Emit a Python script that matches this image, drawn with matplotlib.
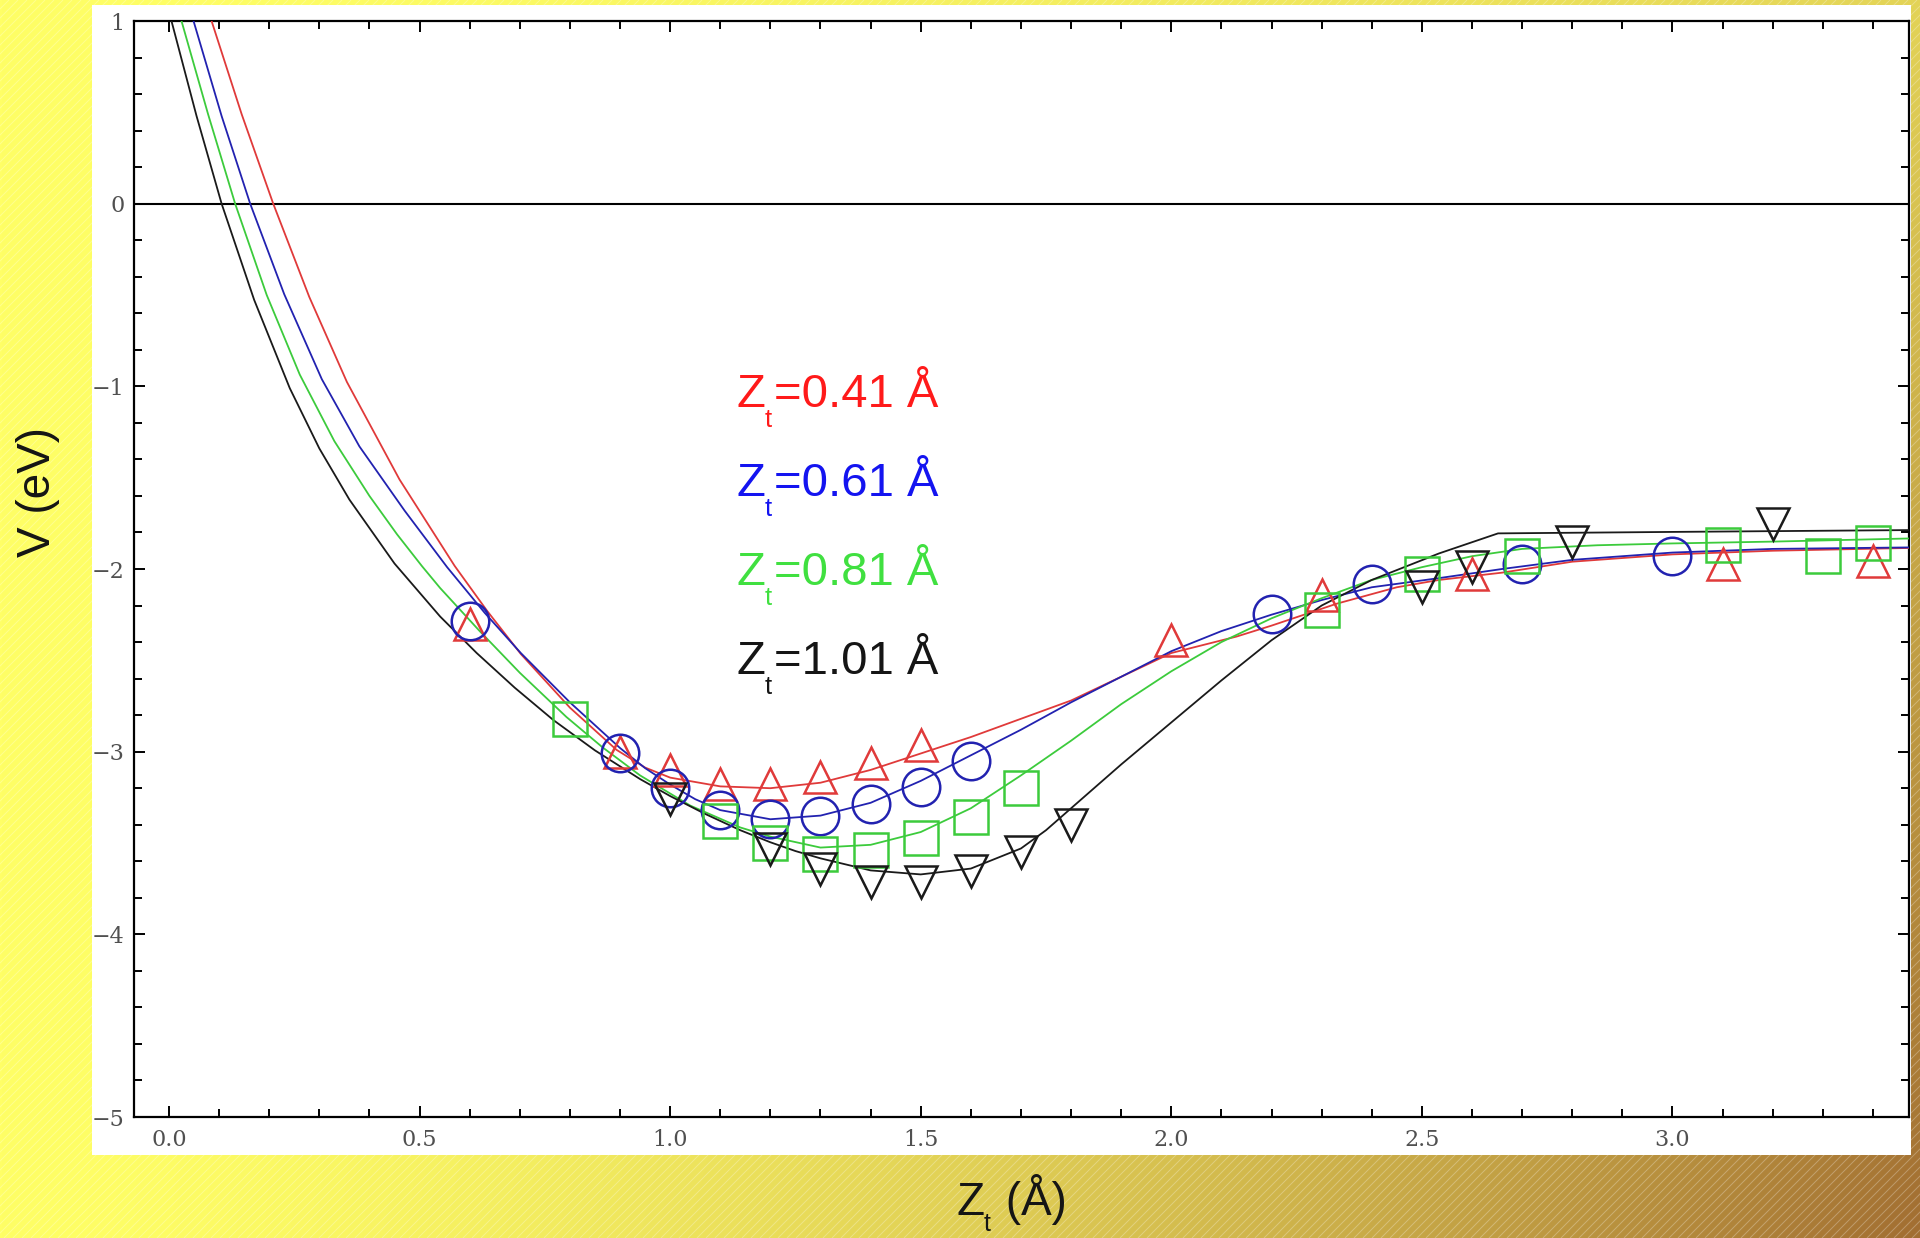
import numpy as np
import matplotlib
matplotlib.use("Agg")
import matplotlib.pyplot as plt
from matplotlib.collections import LineCollection
from matplotlib.patches import Rectangle
from matplotlib.transforms import offset_copy
from matplotlib.ticker import MultipleLocator, FormatStrFormatter

# ---------------- data ----------------
series_labels = ["0.41", "0.61", "0.81", "1.01"]

# fitted curves
red_line_x = [0.085, 0.145, 0.208, 0.28, 0.355, 0.46, 0.57, 0.635, 0.702, 0.80, 0.893, 0.95, 1.0,
              1.1, 1.2, 1.3, 1.4, 1.5, 1.6, 1.7, 1.8, 1.9, 2.0, 2.13, 2.2, 2.33, 2.45, 2.534, 2.66,
              2.8, 3.0, 3.2, 3.47]
red_line_y = [1.0, 0.49, 0.0, -0.511, -0.976, -1.51, -1.983, -2.23, -2.465, -2.759, -2.99, -3.087,
              -3.142, -3.19, -3.20, -3.17, -3.10, -3.01, -2.92, -2.82, -2.72, -2.59, -2.46, -2.37,
              -2.31, -2.19, -2.10, -2.06, -2.02, -1.96, -1.92, -1.90, -1.885]

blue_line_x = [0.049, 0.105, 0.162, 0.23, 0.305, 0.38, 0.47, 0.555, 0.63, 0.702, 0.80, 0.9, 0.95,
               1.0, 1.05, 1.1, 1.2, 1.3, 1.4, 1.5, 1.6, 1.7, 1.8, 1.9, 2.0, 2.1, 2.2, 2.3, 2.4,
               2.534, 2.66, 2.8, 3.0, 3.2, 3.47]
blue_line_y = [1.0, 0.48, 0.0, -0.496, -0.961, -1.329, -1.68, -1.99, -2.24, -2.46, -2.73, -2.98,
               -3.09, -3.18, -3.26, -3.32, -3.37, -3.35, -3.28, -3.16, -3.02, -2.88, -2.73, -2.59,
               -2.45, -2.34, -2.25, -2.17, -2.10, -2.05, -2.00, -1.95, -1.91, -1.89, -1.882]

green_line_x = [0.025, 0.078, 0.132, 0.195, 0.261, 0.33, 0.40, 0.455, 0.505, 0.541, 0.62, 0.70,
                0.793, 0.865, 0.94, 1.04, 1.14, 1.2, 1.3, 1.4, 1.5, 1.6, 1.7, 1.8, 1.9, 2.0, 2.1,
                2.2, 2.3, 2.4, 2.5, 2.6, 2.7, 2.85, 3.0, 3.2, 3.47]
green_line_y = [1.0, 0.49, 0.0, -0.50, -0.936, -1.30, -1.60, -1.81, -1.985, -2.104, -2.34, -2.568,
                -2.81, -2.976, -3.13, -3.295, -3.415, -3.465, -3.525, -3.51, -3.44, -3.31, -3.13,
                -2.94, -2.74, -2.56, -2.40, -2.27, -2.16, -2.06, -1.99, -1.93, -1.89, -1.87, -1.86,
                -1.85, -1.833]

black_line_x = [0.005, 0.055, 0.105, 0.17, 0.241, 0.30, 0.36, 0.45, 0.541, 0.614, 0.69, 0.767,
                0.85, 0.94, 1.0, 1.07, 1.14, 1.2, 1.25, 1.3, 1.4, 1.5, 1.6, 1.7, 1.75, 1.8, 1.85,
                1.9, 2.0, 2.1, 2.2, 2.3, 2.4, 2.534, 2.652, 3.0, 3.47]
black_line_y = [1.0, 0.48, 0.0, -0.527, -1.01, -1.34, -1.62, -1.97, -2.26, -2.46, -2.65, -2.827,
                -2.993, -3.15, -3.243, -3.341, -3.43, -3.496, -3.544, -3.584, -3.65, -3.672, -3.64,
                -3.53, -3.43, -3.31, -3.19, -3.07, -2.84, -2.61, -2.39, -2.20, -2.06, -1.915,
                -1.805, -1.797, -1.787]

# computed points (markers)
red_pts_x = [0.6, 0.9, 1.0, 1.1, 1.2, 1.3, 1.4, 1.5, 2.0, 2.3, 2.6, 3.1, 3.4]
red_pts_y = [-2.30, -3.00, -3.10, -3.175, -3.175, -3.14, -3.06, -2.965, -2.39, -2.14, -2.03, -1.97, -1.955]

blue_pts_x = [0.6, 0.9, 1.0, 1.1, 1.2, 1.3, 1.4, 1.5, 1.6, 2.2, 2.4, 2.7, 3.0]
blue_pts_y = [-2.285, -3.01, -3.20, -3.32, -3.37, -3.35, -3.285, -3.195, -3.05, -2.245, -2.08, -1.97, -1.93]

green_pts_x = [0.8, 1.1, 1.2, 1.3, 1.4, 1.5, 1.6, 1.7, 2.3, 2.5, 2.7, 3.1, 3.3, 3.4]
green_pts_y = [-2.82, -3.38, -3.50, -3.56, -3.54, -3.47, -3.36, -3.20, -2.225, -2.025, -1.93, -1.87, -1.93, -1.86]

black_pts_x = [1.0, 1.2, 1.3, 1.4, 1.5, 1.6, 1.7, 1.8, 2.5, 2.6, 2.8, 3.2]
black_pts_y = [-3.26, -3.535, -3.645, -3.715, -3.715, -3.655, -3.55, -3.40, -2.10, -1.99, -1.85, -1.755]

x_major_ticks = [0.0, 0.5, 1.0, 1.5, 2.0, 2.5, 3.0]
y_major_ticks = [1, 0, -1, -2, -3, -4, -5]
y_tick_labels = ["1", "0", "\u22121", "\u22122", "\u22123", "\u22124", "\u22125"]

# ---------------- styling ----------------
W, H, DPI = 1920, 1238, 100
plt.rcParams["font.family"] = ["DejaVu Serif"]
SANS = ["Liberation Sans", "DejaVu Sans"]

line_cols = ["#E03A3A", "#2222B0", "#3CCB3C", "#1A1A1A"]
text_cols = ["#FF1A1A", "#1414F0", "#40E040", "#151515"]

fig = plt.figure(figsize=(W / DPI, H / DPI), dpi=DPI)

# background: gradient + diagonal hatching + white panel
bg = fig.add_axes([0, 0, 1, 1], zorder=-5)
bg.set_xlim(0, W)
bg.set_ylim(0, H)
bg.axis("off")
u = np.linspace(0, 1, 480)
v = np.linspace(0, 1, 310)
U, V = np.meshgrid(u, v)
tt = U ** 1.6 * (0.3 + 0.7 * (1 - V))
c0 = np.array([255, 255, 102]) / 255.0
c1 = np.array([162, 110, 50]) / 255.0
img = c0 + (c1 - c0) * tt[..., None]
bg.imshow(img, extent=[0, W, 0, H], origin="lower", aspect="auto", interpolation="bilinear")
segs = [[(c, 0), (c + H, H)] for c in np.arange(-H, W, 9.0)]
bg.add_collection(LineCollection(segs, colors=[(1, 1, 1, 0.28)], linewidths=0.7))
bg.add_patch(Rectangle((92, H - 1155), 1911 - 92, 1155 - 5, facecolor="white", edgecolor="none"))

# main axes
ax = fig.add_axes([134 / W, 1 - 1117 / H, (1909 - 134) / W, (1117 - 21) / H])
ax.set_facecolor("white")
ax.set_xlim(-0.0698, 3.472)
ax.set_ylim(-5, 1)

ax.axhline(0, color="black", lw=1.5, zorder=1)

lines = [(red_line_x, red_line_y), (blue_line_x, blue_line_y),
         (green_line_x, green_line_y), (black_line_x, black_line_y)]
pts = [(red_pts_x, red_pts_y, "^", 23), (blue_pts_x, blue_pts_y, "o", 27),
       (green_pts_x, green_pts_y, "s", 24.5), (black_pts_x, black_pts_y, "v", 23.5)]
for (lx, ly), (px, py, mk, ms), col in zip(lines, pts, line_cols):
    ax.plot(lx, ly, color=col, lw=1.3, zorder=3, solid_joinstyle="round")
    ax.plot(px, py, ls="none", marker=mk, ms=ms, mfc="none", mec=col, mew=1.8, zorder=4)

ax.set_xticks(x_major_ticks)
ax.xaxis.set_minor_locator(MultipleLocator(0.1))
ax.set_yticks(y_major_ticks)
ax.yaxis.set_minor_locator(MultipleLocator(0.2))
ax.xaxis.set_major_formatter(FormatStrFormatter("%.1f"))
ax.set_yticklabels(y_tick_labels)
ax.tick_params(which="both", direction="in", top=True, right=True, width=1.4,
               labelsize=16, labelcolor="#505050")
ax.tick_params(which="major", length=8)
ax.tick_params(which="minor", length=5.5)
ax.tick_params(axis="x", pad=9)
ax.tick_params(axis="y", pad=7)
for s in ax.spines.values():
    s.set_linewidth(1.6)

renderer = fig.canvas.get_renderer()


def z_label(x, y, rest, color, transform, size=34, sub_size=18.5, drop_pt=14.5):
    t1 = fig.text(x, y, "Z", transform=transform, fontsize=size, color=color,
                  family=SANS, ha="left", va="baseline")
    w1 = t1.get_window_extent(renderer).width * 72.0 / DPI
    t2 = fig.text(x, y, "t", fontsize=sub_size, color=color, family=SANS, ha="left", va="baseline",
                  transform=offset_copy(transform, fig=fig, x=w1 - 1.0, y=-drop_pt, units="points"))
    w2 = t2.get_window_extent(renderer).width * 72.0 / DPI
    fig.text(x, y, rest, fontsize=size, color=color, family=SANS, ha="left", va="baseline",
             transform=offset_copy(transform, fig=fig, x=w1 + w2 + 1.0, y=0, units="points"))


label_x = 1.133
label_ys = [-1.112, -1.599, -2.086, -2.573]
for lab, yv, col in zip(series_labels, label_ys, text_cols):
    z_label(label_x, yv, "=" + lab + " \u00c5", col, ax.transData)

# axis labels
z_label(957 / W, 1 - 1215 / H, " (\u00c5)", "#151515", fig.transFigure, size=33, sub_size=18, drop_pt=11.5)
fig.text(38 / W, 1 - 492 / H, "V (eV)", rotation=90, ha="center", va="center",
         fontsize=33, family=SANS, color="#151515")

fig.savefig("out.png", dpi=DPI)
